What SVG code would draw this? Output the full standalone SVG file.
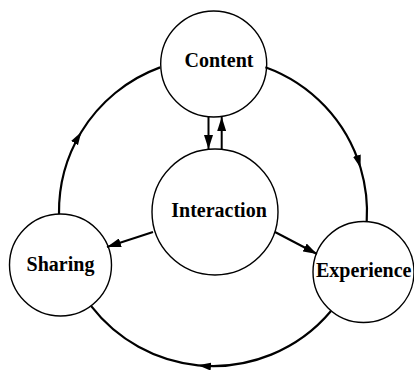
<svg xmlns="http://www.w3.org/2000/svg" width="414" height="370" viewBox="0 0 414 370">
<style>
.node{fill:#fff;stroke:#000;stroke-width:1.4}
.lbl{font-family:"Liberation Serif","Times New Roman",serif;font-weight:bold;font-size:20px;fill:#000;text-anchor:middle}
.arc{fill:none;stroke:#000;stroke-width:2.2;marker-mid:url(#ah)}
.ln{fill:none;stroke:#000;stroke-width:2;marker-end:url(#ah2)}
</style>
<defs>
<marker id="ah" markerUnits="userSpaceOnUse" markerWidth="14" markerHeight="9" refX="13" refY="4.5" orient="auto"><path d="M0,0.5 L13,4.5 L0,8.5 z" fill="#000"/></marker>
<marker id="ah2" markerUnits="userSpaceOnUse" markerWidth="15" markerHeight="9" refX="14" refY="4.5" orient="auto"><path d="M0,0 L14,4.5 L0,9 z" fill="#000"/></marker>
</defs>
<rect width="414" height="370" fill="#fff"/>
<g id="content"><circle class="node" cx="213.7" cy="64" r="53"/><text class="lbl" x="219" y="67">Content</text></g>
<g id="interaction"><circle class="node" cx="215" cy="212" r="63"/><text class="lbl" x="219" y="217">Interaction</text></g>
<g id="sharing"><circle class="node" cx="60.5" cy="265" r="51"/><text class="lbl" x="60.5" y="271">Sharing</text></g>
<g id="experience"><circle class="node" cx="363.5" cy="272" r="50.5"/><text class="lbl" x="363.7" y="277">Experience</text></g>
<g id="connectors">
<path class="arc" d="M265.4,67.2 A154,154 0 0 1 360.6,168 A154,154 0 0 1 366.7,221.9"/>
<path class="arc" d="M331,311 A154,154 0 0 1 198,365.3 A154,154 0 0 1 91.2,306.2"/>
<path class="arc" d="M59,213.9 A154,154 0 0 1 81.3,132 A154,154 0 0 1 160.1,67.4"/>
<path class="ln" d="M208.5,116.5 L208.5,149"/>
<path class="ln" d="M221.7,149 L221.7,117"/>
<path class="ln" d="M153,232 L107,247"/>
<path class="ln" d="M275,232 L317,254"/>
</g>
</svg>
